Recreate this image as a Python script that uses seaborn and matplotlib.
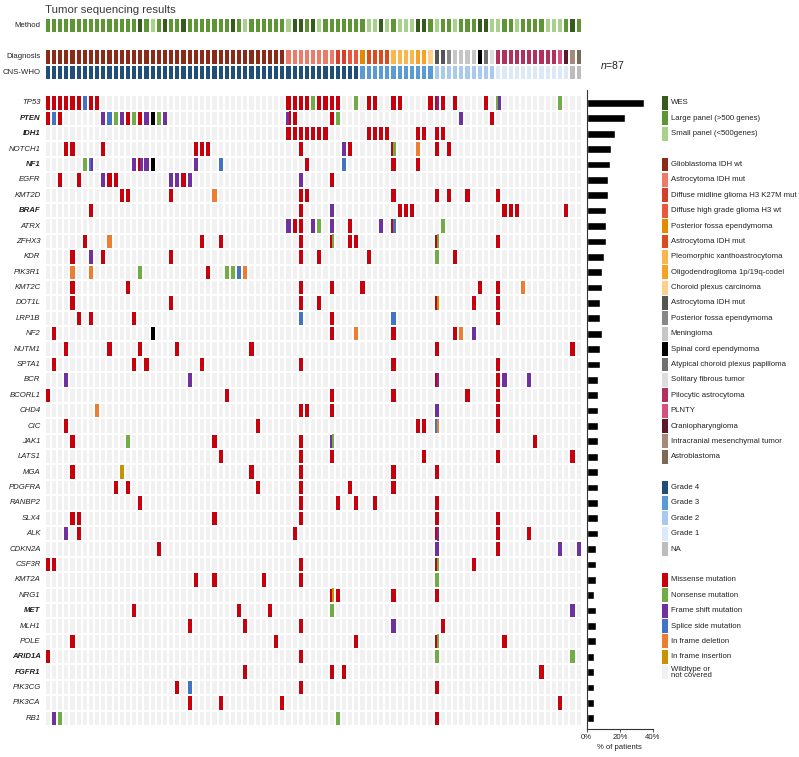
# Oncoprint: Tumor sequencing results (87 Patienten)
# Matriz de mutações + anotações (método, diagnóstico, grau) + barras de frequência

import numpy as np
import pandas as pd
import matplotlib.pyplot as plt
import seaborn as sns
from matplotlib.colors import ListedColormap
from matplotlib.patches import Rectangle

sns.set_theme(style="white")
plt.rcParams["font.family"] = ["Liberation Sans", "DejaVu Sans"]
plt.rcParams["mathtext.fontset"] = "custom"
plt.rcParams["mathtext.it"] = "Liberation Sans:italic"
plt.rcParams["mathtext.rm"] = "Liberation Sans"

N_PAT = 87

# ---------------------------------------------------------------------------
# Dados
# ---------------------------------------------------------------------------
genes = ["TP53", "PTEN", "IDH1", "NOTCH1", "NF1", "EGFR", "KMT2D", "BRAF",
         "ATRX", "ZFHX3", "KDR", "PIK3R1", "KMT2C", "DOT1L", "LRP1B", "NF2",
         "NUTM1", "SPTA1", "BCR", "BCORL1", "CHD4", "CIC", "JAK1", "LATS1",
         "MGA", "PDGFRA", "RANBP2", "SLX4", "ALK", "CDKN2A", "CSF3R", "KMT2A",
         "NRG1", "MET", "MLH1", "POLE", "ARID1A", "FGFR1", "PIK3CG", "PIK3CA",
         "RB1"]
bold_genes = ["PTEN", "IDH1", "NF1", "BRAF", "MET", "ARID1A", "FGFR1"]

# "<patient><type>", two types in one cell -> "M/F"
# M missense, N nonsense, F frame shift, S splice, D in frame del, I in frame ins, X other
mutations = [
    "0M 1M 2M 3M 4M 5M 6S 7M 8M 39M 40M 41M 42M 43N 44M 45M 46M 47M 50N 52M 53M "
    "56M 57M 62M 63M/F 64M 66M 71M 73N/F 83N",
    "0M 1S 2M 9F 10S 11N 12F 13M 14N 15M 16F 17X 18N 19F 39F/M 40M 46M 47N 67F 72M",
    "39M 40M 41M 42M 43M 44M 45M 52M 53M 54M 55M 60M 61M 63M 64M",
    "3M 4M 9M 24M 25M 26M 41M 48F 49M 56M/N 60D 63M 65M",
    "6N 7S/F 14F 15M/F 16F 17X 24F 28S 42M 48S 56M 60M",
    "2M 5M 9F 10M 11M 20F 21F 22M 23F 41F 46M",
    "12M 13M 20M 27D 41M 42M 56M 63M 65M 68M 73M",
    "7M 41M 46F 57M 58M 59M 74M 75M 76M 84M",
    "39F 40M 41M 43F 44N 46F 49M 54F 56M/S 64N",
    "6M 10D 25M 28M 41M 46M/N 49M 50M 63M/N 73M",
    "4M 7F 9M 20M 41M 44M 52M 63N 66M",
    "4D 7D 15N 26M 29N 30N 31S 32D",
    "4M 13M 41M 46M 51M 70M 73M 77D",
    "4M 20M 41M 44M 63M/I 69M 73M",
    "5M 7M 14M 41S 46M 56S 73M",
    "1M 17X 46M 50D 56M 66M 67D 69F",
    "3M 10M 15M 21M 33M 63M 85M",
    "1M 14M 16M 25M 41M 56M 73M",
    "3F 23F 63M/F 73M 74F 78F",
    "0M 29M 46M 56M 68M 73M",
    "8D 41M 42M 46M 63F 73M",
    "3M 34M 60M 61M 63S/D 73M",
    "4M 13N 27M 41M 46F/N 79M",
    "28M 41M 46M 61M 73M 85M",
    "4M 12I 33M 41M 56M 63M",
    "11M 13M 34M 41M 49M 56M",
    "15M 41M 47M 50M 53M 63M",
    "4M 5M 27M 41M 63M 73M",
    "3F 5M 40M 63M/F 73M 78M",
    "18M 63F 73M 83F 86F",
    "0M 1M 41M 63M/N 69M",
    "24M 27M 35M 41M 63N",
    "46M/I 47M 56M 63M",
    "14M 31M 36M 46N 85F",
    "23M 32M 41M 56F 64M",
    "4M 37M 50M 63M/N 74M",
    "0M 41M 63N 85N",
    "32M 46M 48M 80M",
    "21M 23S 41M 63M",
    "23M 28M 38M 83M",
    "1F 2N 47N 63M",
]

mut_codes = ["M", "N", "F", "S", "D", "I", "X"]
mut_labels = ["Missense mutation", "Nonsense mutation", "Frame shift mutation",
              "Splice side mutation", "In frame deletion", "In frame insertion"]
mut_colors = ["#c8000b", "#70ad47", "#7030a0", "#4472c4", "#ed7d31", "#c89200"]
other_color = "#000000"
wildtype_label = "Wildtype or\nnot covered"
wildtype_color = "#f1f1f1"

method_labels = ["WES", "Large panel (>500 genes)", "Small panel (<500genes)"]
method_colors = ["#375a1f", "#5e9636", "#a9d18e"]
method_codes = "WLS"
method_per_patient = ("LLLLLLLLLL" "LLLLLWLSLW" "LLWLLLLLLL" "WLSLLLLLLS"
                      "WWLWSLLLLL" "LLSSWSLSSS" "WWLSLLSLLL" "WWSSLLSLLL"
                      "LSSSLWL")

diag_labels = ["Glioblastoma IDH wt", "Astrocytoma IDH mut",
               "Diffuse midline glioma H3 K27M mut",
               "Diffuse high grade glioma H3 wt", "Posterior fossa ependymoma",
               "Astrocytoma IDH mut", "Pleomorphic xanthoastrocytoma",
               "Oligodendroglioma 1p/19q-codel", "Choroid plexus carcinoma",
               "Astrocytoma IDH mut", "Posterior fossa ependymoma", "Meningioma",
               "Spinal cord ependymoma", "Atypical choroid plexus papilloma",
               "Solitary fibrous tumor", "Pilocytic astrocytoma", "PLNTY",
               "Craniopharyngioma", "Intracranial mesenchymal tumor",
               "Astroblastoma"]
diag_colors = ["#8b2a17", "#ec7b68", "#d6402a", "#e9583c", "#e38a00",
               "#dc4a1f", "#f9b64c", "#f6a325", "#fdd08e", "#555555",
               "#888888", "#c6c6c6", "#000000", "#707070", "#dddddd",
               "#b2305c", "#d6517c", "#5c1b2b", "#a38a7b", "#7c6958"]
diag_counts = [39, 8, 2, 2, 1, 4, 4, 2, 1, 2, 1, 4, 1, 1, 1, 10, 1, 1, 1, 1]

grade_labels = ["Grade 4", "Grade 3", "Grade 2", "Grade 1", "NA"]
grade_colors = ["#1f4e79", "#5b9bd5", "#a9caec", "#dceaf7", "#bdbdbd"]
grade_counts = [51, 12, 10, 12, 2]

# ---------------------------------------------------------------------------
# Preparação
# ---------------------------------------------------------------------------
cell_colors = [wildtype_color] + mut_colors + [other_color]
grid = np.zeros((len(genes), N_PAT), dtype=int)
splits = []
for r, entry in enumerate(mutations):
    for tok in entry.split():
        num = tok.rstrip("MNFSDIX/")
        kinds = tok[len(num):].split("/")
        c = int(num)
        grid[r, c] = mut_codes.index(kinds[0]) + 1
        if len(kinds) > 1:
            splits.append((r, c, mut_codes.index(kinds[1]) + 1))

pct = (grid > 0).sum(axis=1) / N_PAT * 100
df_bar = pd.DataFrame({"gene": genes, "pct": pct})

method_idx = np.array([[method_codes.index(ch) for ch in method_per_patient]])
diag_idx = np.repeat(np.arange(len(diag_counts)), diag_counts)
grade_idx = np.repeat(np.arange(len(grade_counts)), grade_counts) + len(diag_labels)
annot_idx = np.vstack([diag_idx, grade_idx])

# ---------------------------------------------------------------------------
# Figura
# ---------------------------------------------------------------------------
W, H = 799, 757
fig = plt.figure(figsize=(W / 100, H / 100), dpi=100)


def box(x0, y0, x1, y1):
    # retângulo em pixels (origem no topo) -> coordenadas da figura
    return [x0 / W, 1 - y1 / H, (x1 - x0) / W, (y1 - y0) / H]


X0, X1 = 44.7, 581.7
Y0, Y1 = 95.3, 726.0
txt = "#222222"
fs = 5.6

# matriz de mutações
ax = fig.add_axes(box(X0, Y0, X1, Y1))
sns.heatmap(grid, ax=ax, cmap=ListedColormap(cell_colors), vmin=-0.5,
            vmax=len(cell_colors) - 0.5, cbar=False, linewidths=1.1,
            linecolor="white", xticklabels=False, yticklabels=genes)
gx = 0.75 / ((X1 - X0) / N_PAT)
gy = 0.75 / ((Y1 - Y0) / len(genes))
for r, c, k in splits:
    ax.add_patch(Rectangle((c + 0.5, r + gy), 0.5 - gx, 1 - 2 * gy,
                           facecolor=cell_colors[k], lw=0, zorder=3))
ax.tick_params(axis="y", length=0, pad=3, labelsize=fs, labelcolor=txt)
for lab in ax.get_yticklabels():
    lab.set_rotation(0)
    lab.set_style("italic")
    if lab.get_text() in bold_genes:
        lab.set_weight("bold")

# anotações
axm = fig.add_axes(box(X0, 18, X1, 33))
sns.heatmap(method_idx, ax=axm, cmap=ListedColormap(method_colors), vmin=-0.5,
            vmax=len(method_colors) - 0.5, cbar=False, linewidths=1.1,
            linecolor="white", xticklabels=False, yticklabels=["Method"])
axd = fig.add_axes(box(X0, 49, X1, 80))
sns.heatmap(annot_idx, ax=axd, cmap=ListedColormap(diag_colors + grade_colors),
            vmin=-0.5, vmax=len(diag_colors) + len(grade_colors) - 0.5,
            cbar=False, linewidths=1.1, linecolor="white", xticklabels=False,
            yticklabels=["Diagnosis", "CNS-WHO"])
for a in (axm, axd):
    a.tick_params(axis="y", length=0, pad=3, labelsize=fs, labelcolor=txt)
    for lab in a.get_yticklabels():
        lab.set_rotation(0)

fig.text(X0 / W, 1 - 10 / H, "Tumor sequencing results", fontsize=8.2,
         color="#3a3a3a", va="center")
fig.text(600 / W, 1 - 65 / H, "$n$=87", fontsize=7.5, color=txt, va="center")

# barras: % de pacientes
axb = fig.add_axes(box(586.7, 90, 653, 729))
sns.barplot(data=df_bar, x="pct", y="gene", color="black", width=0.5,
            errorbar=None, orient="h", saturation=1, ax=axb)
axb.set_ylim(len(genes) - 0.5 + 0.2, -0.5 - 0.34)
axb.set_xlim(0, 40)
axb.set_xticks([0, 20, 40])
axb.set_xticklabels(["0%", "20%", "40%"])
axb.set_yticks([])
axb.set_ylabel("")
axb.set_xlabel("% of patients", fontsize=fs, color=txt, labelpad=2)
axb.tick_params(axis="x", labelsize=fs, labelcolor=txt, length=2, width=0.6,
                pad=1.5, bottom=True, color="#333333")
for s in ("top", "right"):
    axb.spines[s].set_visible(False)
for s in ("left", "bottom"):
    axb.spines[s].set_linewidth(0.8)
    axb.spines[s].set_color("#333333")

# legenda alinhada às linhas da matriz
axl = fig.add_axes(box(661.7, Y0, W, Y1))
axl.set_xlim(0, W - 661.7)
axl.set_ylim(len(genes), 0)
axl.axis("off")
sections = [
    (method_labels, method_colors),
    (diag_labels, diag_colors),
    (grade_labels, grade_colors),
    (mut_labels + [wildtype_label], mut_colors + [wildtype_color]),
]
row = 0
for labels, colors in sections:
    for lab, col in zip(labels, colors):
        axl.add_patch(Rectangle((0, row + 0.05), 6.6, 0.9, facecolor=col, lw=0))
        axl.text(9, row + 0.5, lab, fontsize=fs, color=txt, va="center",
                 linespacing=0.85)
        row += 1
    row += 1

fig.savefig("out.png", dpi=100)
